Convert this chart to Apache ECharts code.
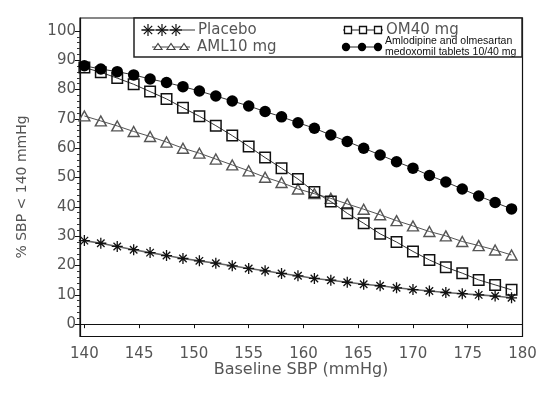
<!DOCTYPE html>
<html>
<head>
<meta charset="utf-8">
<script src="https://cdn.jsdelivr.net/npm/echarts@6/dist/echarts.min.js"></script>
<style>
html,body{margin:0;padding:0;background:#fff;}
#c{width:558px;height:395px;}
</style>
</head>
<body>
<div id="c"></div>
<script>
// ---- data ----
const BASELINE_SBP = [140,141.5,143,144.5,146,147.5,149,150.5,152,153.5,155,156.5,158,159.5,161,162.5,164,165.5,167,168.5,170,171.5,173,174.5,176,177.5,179];
const PLACEBO = [28.5,27.6,26.5,25.4,24.4,23.4,22.4,21.6,20.8,19.9,19.0,18.2,17.3,16.5,15.6,15.0,14.3,13.6,13.1,12.4,11.8,11.3,10.8,10.4,10.0,9.6,9.0];
const OM40 = [87.5,85.9,83.9,81.8,79.3,76.8,73.8,70.9,67.7,64.3,60.6,56.8,53.2,49.5,45.1,41.8,37.8,34.4,30.8,28.0,24.8,21.9,19.4,17.4,15.1,13.4,11.7];
const AML10 = [71.0,69.3,67.6,65.7,64.0,62.1,60.0,58.3,56.3,54.3,52.3,50.1,48.3,46.1,44.5,42.9,41.0,39.2,37.3,35.3,33.5,31.6,30.1,28.2,26.8,25.3,23.6];
const COMBO = [88.1,87.0,86.1,85.0,83.6,82.4,81.0,79.5,77.8,76.1,74.4,72.5,70.7,68.7,66.8,64.5,62.3,60.0,57.7,55.4,53.2,50.7,48.5,46.1,43.7,41.5,39.3];
const X_TICKS = [140,145,150,155,160,165,170,175,180];
const Y_TICKS = [0,10,20,30,40,50,60,70,80,90,100];
const Y_MINOR = [2,4,6,8,12,14,16,18,22,24,26,28,32,34,36,38,42,44,46,48,52,54,56,58,62,64,66,68,72,74,76,78,82,84,86,88,92,94,96,98];
const NAMES = ['Placebo','OM40 mg','AML10 mg','Amlodipine and olmesartan medoxomil tablets 10/40 mg'];

const pair = v => BASELINE_SBP.map((x,i)=>[x,v[i]]);
const STAR = 'path://M5,0L5,10M0,5L10,5M1.6,1.6L8.4,8.4M1.6,8.4L8.4,1.6';
const FONT = 'DejaVu Sans';
const GREY = '#555';

const chart = echarts.init(document.getElementById('c'), null, {renderer:'canvas'});

function starLines(cx, cy, r, color){
  const d = r*0.7;
  return [
    {type:'line', shape:{x1:cx,y1:cy-r,x2:cx,y2:cy+r}, style:{stroke:color,lineWidth:1.2}},
    {type:'line', shape:{x1:cx-r,y1:cy,x2:cx+r,y2:cy}, style:{stroke:color,lineWidth:1.2}},
    {type:'line', shape:{x1:cx-d,y1:cy-d,x2:cx+d,y2:cy+d}, style:{stroke:color,lineWidth:1.2}},
    {type:'line', shape:{x1:cx-d,y1:cy+d,x2:cx+d,y2:cy-d}, style:{stroke:color,lineWidth:1.2}}
  ];
}
const legendEls = [];
legendEls.push({type:'rect', shape:{x:134,y:18,width:388,height:39}, style:{fill:'#fff',stroke:'#222',lineWidth:1.5}, z:10});
// placebo sample
legendEls.push({type:'line', shape:{x1:141,y1:30,x2:195,y2:30}, style:{stroke:'#333',lineWidth:1}, z:11});
[148,162,176].forEach(cx=>starLines(cx,30,6,'#111').forEach(e=>{e.z=11;legendEls.push(e);}));
legendEls.push({type:'text', x:198, y:30, style:{text:NAMES[0], font:'15px '+FONT, fill:GREY, verticalAlign:'middle'}, z:11});
// AML sample
legendEls.push({type:'line', shape:{x1:152,y1:47,x2:190,y2:47}, style:{stroke:'#444',lineWidth:1}, z:11});
[158,171,184].forEach(cx=>legendEls.push({type:'polygon', shape:{points:[[cx,43.5],[cx-4,49.5],[cx+4,49.5]]}, style:{fill:'#fff',stroke:'#444',lineWidth:1.2}, z:11}));
legendEls.push({type:'text', x:197, y:47, style:{text:NAMES[2], font:'15px '+FONT, fill:GREY, verticalAlign:'middle'}, z:11});
// OM40 sample
legendEls.push({type:'line', shape:{x1:343,y1:30,x2:383,y2:30}, style:{stroke:'#222',lineWidth:1}, z:11});
[348,363,378].forEach(cx=>legendEls.push({type:'rect', shape:{x:cx-3.5,y:26.5,width:7,height:7}, style:{fill:'#fff',stroke:'#111',lineWidth:1.3}, z:11}));
legendEls.push({type:'text', x:386, y:30, style:{text:NAMES[1], font:'15px '+FONT, fill:GREY, verticalAlign:'middle'}, z:11});
// combo sample
legendEls.push({type:'line', shape:{x1:342,y1:47,x2:382,y2:47}, style:{stroke:'#222',lineWidth:1}, z:11});
[346,362,378].forEach(cx=>legendEls.push({type:'circle', shape:{cx:cx,cy:47,r:4.2}, style:{fill:'#000'}, z:11}));
legendEls.push({type:'text', x:385, y:41, style:{text:'Amlodipine and olmesartan', font:'10.5px Liberation Sans', fill:'#111', verticalAlign:'middle'}, z:11});
legendEls.push({type:'text', x:385, y:52, style:{text:'medoxomil tablets 10/40 mg', font:'10.5px Liberation Sans', fill:'#111', verticalAlign:'middle'}, z:11});
// axis titles
legendEls.push({type:'text', x:301, y:370, style:{text:'Baseline SBP (mmHg)', font:'16px '+FONT, fill:GREY, align:'center', verticalAlign:'middle'}, z:11});
legendEls.push({type:'text', x:22, y:187, rotation:Math.PI/2, style:{text:'% SBP < 140 mmHg', font:'14px '+FONT, fill:GREY, align:'center', verticalAlign:'middle'}, z:11});

const option = {
  animation:false,
  backgroundColor:'#fff',
  grid:{left:80, right:35.5, top:18, bottom:58.5, show:true, borderColor:'#111', borderWidth:1.2, containLabel:false},
  xAxis:{
    type:'value', min:139.6, max:180,
    axisLine:{show:true, lineStyle:{color:'#111', width:1.2}},
    axisTick:{show:true, customValues:X_TICKS, length:4, lineStyle:{color:'#111'}},
    axisLabel:{show:true, customValues:X_TICKS, fontFamily:FONT, fontSize:15, color:GREY, margin:10},
    splitLine:{show:false}
  },
  yAxis:[{
    type:'value', min:-4.2, max:104.4,
    axisLine:{show:true, lineStyle:{color:'#111', width:1.2}},
    axisTick:{show:true, customValues:Y_TICKS, length:5, lineStyle:{color:'#111'}},
    axisLabel:{show:true, customValues:Y_TICKS, fontFamily:FONT, fontSize:15, color:GREY, margin:4},
    splitLine:{show:false}
  },{
    type:'value', min:-4.2, max:104.4, position:'left',
    axisLine:{show:false},
    axisTick:{show:true, customValues:Y_MINOR, length:3, lineStyle:{color:'#333'}},
    axisLabel:{show:false},
    splitLine:{show:false}
  }],
  graphic:legendEls,
  series:[
    {name:NAMES[0], type:'line', data:pair(PLACEBO), symbol:STAR, symbolSize:11,
     itemStyle:{color:'none', borderColor:'#111', borderWidth:1.3},
     lineStyle:{color:'#666', width:1.6}, z:2},
    {name:NAMES[2], type:'line', data:pair(AML10), symbol:'triangle', symbolSize:[11,10],
     itemStyle:{color:'rgba(0,0,0,0)', borderColor:'#555', borderWidth:1.4},
     lineStyle:{color:'#555', width:1}, z:3},
    {name:NAMES[1], type:'line', data:pair(OM40), symbol:'rect', symbolSize:10.5,
     itemStyle:{color:'rgba(0,0,0,0)', borderColor:'#111', borderWidth:1.5},
     lineStyle:{color:'#333', width:1}, z:4},
    {name:NAMES[3], type:'line', data:pair(COMBO), symbol:'circle', symbolSize:11.5,
     itemStyle:{color:'#000', borderWidth:0},
     lineStyle:{color:'#333', width:1}, z:5}
  ]
};
chart.setOption(option);
</script>
</body>
</html>
